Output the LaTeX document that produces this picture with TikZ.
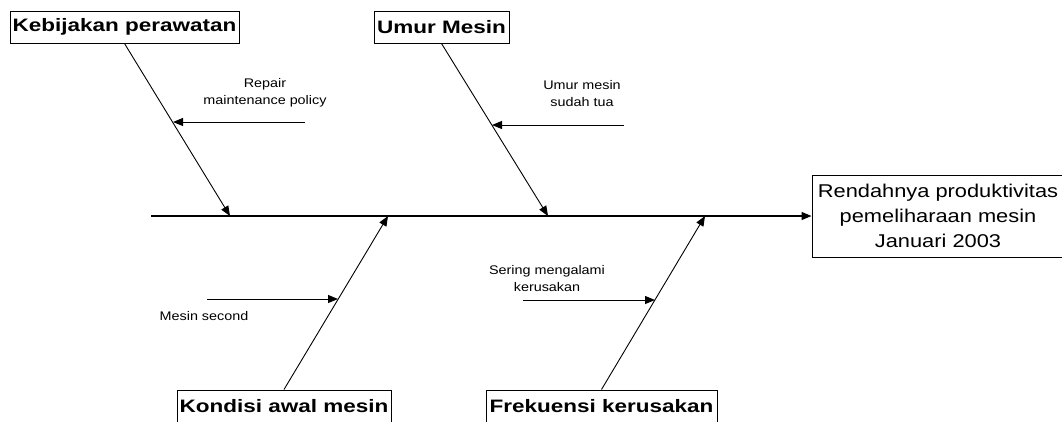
\documentclass[tikz,border=0pt]{standalone}
\usepackage{fontspec}
\setmainfont{Liberation Sans}
\newfontfamily\catfont[FakeStretch=1.25]{Liberation Sans}
\newfontfamily\efffont[FakeStretch=1.18]{Liberation Sans}
\newfontfamily\smallfont[FakeStretch=1.15]{Liberation Sans}
\usetikzlibrary{arrows.meta,calc}
\tikzset{
  catbox/.style={draw=black, line width=1pt, minimum height=32pt, inner sep=0pt,
    font=\catfont\bfseries\fontsize{18}{22}\selectfont},
  effbox/.style={draw=black, line width=1pt, inner sep=0pt, align=center,
    font=\efffont\fontsize{18.5}{25}\selectfont},
  smalltxt/.style={inner sep=0pt, align=center, font=\smallfont\fontsize{12.5}{17}\selectfont},
  bone/.style={line width=0.9pt, -{Triangle[length=10pt,width=8pt]}},
  spine/.style={line width=1.3pt, -{Triangle[length=10pt,width=8pt]}},
  twig/.style={line width=1pt, -{Triangle[length=10pt,width=8pt]}}
}
\begin{document}
\begin{tikzpicture}[x=1pt,y=-1pt]
\useasboundingbox (0,0) rectangle (1062,421);
% category boxes
\node[catbox, minimum width=229pt] (keb) at (124.5,27) {Kebijakan perawatan};
\node[catbox, minimum width=135pt] (umur) at (441.5,27) {Umur Mesin};
\node[catbox, minimum width=214pt] (kond) at (284,406) {Kondisi awal mesin};
\node[catbox, minimum width=231pt] (frek) at (601.5,406) {Frekuensi kerusakan};
% effect box
\node[effbox, minimum width=252pt, minimum height=82pt] (eff) at (938,216)
  {Rendahnya produktivitas\\pemeliharaan mesin\\Januari 2003};
% spine
\coordinate (s0) at (151,216);
\coordinate (p1) at (230,216);
\coordinate (p2) at (388,216);
\coordinate (p3) at (548,216);
\coordinate (p4) at (705,216);
\draw[spine] (s0) -- (eff.west);
% bones
\draw[bone] (keb.south) -- (p1);
\draw[bone] (umur.south) -- (p3);
\draw[bone] (kond.north) -- (p2);
\draw[bone] (frek.north) -- (p4);
% sub-cause arrows
\coordinate (a1s) at (305,122); \coordinate (a1t) at (173,122);
\coordinate (a2s) at (624,125); \coordinate (a2t) at (492,125);
\coordinate (a3s) at (207,299); \coordinate (a3t) at (338,299);
\coordinate (a4s) at (523,300); \coordinate (a4t) at (655,300);
\draw[twig] (a1s) -- (a1t);
\draw[twig] (a2s) -- (a2t);
\draw[twig] (a3s) -- (a3t);
\draw[twig] (a4s) -- (a4t);
% sub-cause labels
\node[smalltxt] (t1) at (265,92.5) {Repair\\maintenance policy};
\node[smalltxt] (t2) at (582,93.5) {Umur mesin\\sudah tua};
\node[smalltxt] (t3) at (204,316) {Mesin second};
\node[smalltxt] (t4) at (547,279) {Sering mengalami\\kerusakan};
\end{tikzpicture}
\end{document}
